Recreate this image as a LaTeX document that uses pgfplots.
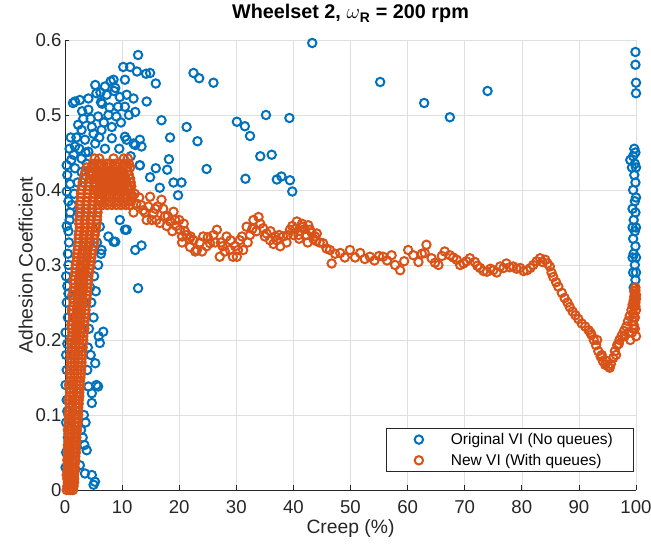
\documentclass[border=0pt]{standalone}
\usepackage{fontspec}
\setmainfont{Liberation Sans}
\usepackage{pgfplots}
\pgfplotsset{compat=1.18}
\usetikzlibrary{calc}
\definecolor{mblue}{RGB}{0,114,189}
\definecolor{morange}{RGB}{217,83,25}
\definecolor{axgray}{RGB}{38,38,38}
\definecolor{gridgray}{RGB}{223,223,223}
\pgfplotsset{
    mlegend/.style={legend image code/.code={\path[draw=none] (-23pt,0pt) -- (22pt,0pt); \draw[##1] plot coordinates {(0pt,0pt)};}},
    circ/.style={only marks, mark=o, mark size=4.2pt, color=#1, line width=2pt, mark options={line width=2pt, solid}, mlegend},
}
\begin{document}
\begin{tikzpicture}
\begin{axis}[
    name=ax,
    scale only axis, width=571pt, height=450pt,
    xmin=0, xmax=100, ymin=0, ymax=0.6,
    xtick={0,10,20,30,40,50,60,70,80,90,100},
    ytick={0,0.1,0.2,0.3,0.4,0.5,0.6},
    axis x line*=bottom, axis y line*=left,
    axis line style={axgray, line width=0.7pt, -},
    tick align=inside, major tick length=4.5pt,
    tick style={axgray, line width=0.7pt},
    grid=major, major grid style={gridgray, line width=0.6pt},
    ticklabel style={font=\fontsize{18.6}{22}\selectfont, text=axgray},
    xticklabel style={inner sep=1pt},
    xticklabel shift=9pt,
    /pgf/number format/assume math mode=true,
    xlabel={Creep (\%)}, ylabel={Adhesion Coefficient},
    label style={font=\fontsize{19.3}{23}\selectfont, text=axgray},
    xlabel style={at={(axis description cs:0.5,-0.097)}, anchor=base, inner sep=0pt},
    ylabel style={at={(axis description cs:-0.056,0.5)}, anchor=south, inner sep=0pt},
    title={Wheelset 2, $\omega$\textsubscript{R} = 200 rpm},
    title style={font=\bfseries\fontsize{19.8}{23}\selectfont, at={(axis description cs:0.5,1)}, anchor=base, yshift=15pt, inner sep=0pt},
    clip=false,
    legend cell align=left,
    legend style={at={(axis description cs:0.995,0.04)}, anchor=south east,
        draw=axgray, line width=0.6pt, fill=white,
        font=\fontsize{15.5}{18}\selectfont, text=black,
        inner xsep=10pt, inner ysep=4pt, row sep=6pt,
        nodes={inner xsep=10pt, inner ysep=1pt}},
]
% Original VI (No queues)
\addplot[circ=mblue]
coordinates {
(0.2,0.09) (0.4,0.105) (0.3,0.12) (0.1,0.14) (0.3,0.16) (0.2,0.18) (0.4,0.195) (0.1,0.21)
(0.5,0.23) (0.3,0.25) (0.6,0.262) (0.4,0.272) (0.2,0.285) (0.6,0.3) (0.5,0.315) (0.7,0.33)
(0.6,0.345) (0.3,0.352) (0.8,0.36) (0.9,0.37) (0.6,0.385) (0.3,0.398) (0.9,0.408) (0.4,0.42)
(0.3,0.433) (1.1,0.44) (0.8,0.455) (0.2,0.05) (0.1,0.03) (0.5,0.07)
(2.6,0.033) (3.4,0.06) (3.8,0.053) (3.5,0.022) (5.25,0.011) (5.0,0.007) (4.7,0.02) (2.8,0.08)
(3.3,0.1) (4.1,0.138) (4.7,0.129) (5.8,0.138) (4.7,0.116) (5.5,0.14) (5.3,0.169) (6.1,0.196)
(6.7,0.211) (3.9,0.16) (4.5,0.18) (4.2,0.215) (4.0,0.19) (5.0,0.23) (4.6,0.25) (4.4,0.27)
(5.4,0.265) (5.1,0.285) (5.8,0.3) (6.3,0.315) (6.1,0.351) (7.6,0.338) (8.8,0.331) (10.5,0.347)
(12.3,0.32) (13.4,0.326) (12.8,0.269) (9.6,0.36) (10.8,0.347) (8.5,0.331) (3.1,0.07) (3.6,0.09)
(5.9,0.205) (6.4,0.32) (5.6,0.33)
(12.8,0.58) (10.2,0.564) (11.4,0.564) (12.6,0.558) (8.5,0.547) (10.5,0.547) (5.3,0.54) (7.0,0.538)
(8.8,0.536) (1.75,0.518) (4.1,0.522) (5.5,0.529) (7.3,0.527) (9.6,0.524) (10.8,0.527) (12.0,0.522)
(12.3,0.504) (4.1,0.507) (5.8,0.498) (7.6,0.5) (9.3,0.511) (10.5,0.511) (2.3,0.487) (2.9,0.48)
(4.7,0.484) (6.4,0.48) (8.2,0.484) (10.5,0.471) (12.0,0.462) (13.1,0.467) (1.75,0.458) (3.5,0.467)
(5.3,0.462) (8.2,0.469) (1.5,0.447) (2.9,0.442) (4.1,0.451) (1.75,0.429) (2.9,0.424) (14.2,0.555)
(14.3,0.518) (1.4,0.516) (6.5,0.515) (3.2,0.495) (7.0,0.455) (9.8,0.49) (11.2,0.5) (6.0,0.47)
(3.8,0.435) (2.2,0.41) (1.6,0.395) (2.4,0.37) (1.2,0.38) (10.8,0.467) (12.3,0.46) (13.4,0.458)
(9.5,0.455) (11.5,0.445) (13.1,0.433) (2.6,0.52) (3.0,0.505) (6.2,0.53) (8.0,0.545) (4.5,0.495)
(6.3,0.517) (8.6,0.532) (7.8,0.51) (9.0,0.498) (1.0,0.47) (2.0,0.47) (3.6,0.45) (2.5,0.455)
(6.8,0.49) (5.0,0.475)
(43.3,0.596) (55.2,0.544) (62.9,0.516) (67.4,0.497) (74.0,0.532) (22.5,0.556) (23.5,0.549) (26.0,0.543)
(15.9,0.542) (14.9,0.556) (16.9,0.493) (21.3,0.484) (18.4,0.47) (23.2,0.465) (30.1,0.491) (31.5,0.485)
(32.4,0.472) (35.2,0.5) (39.3,0.496) (34.2,0.445) (36.2,0.447) (18.2,0.441) (15.9,0.429) (17.9,0.427)
(24.8,0.428) (31.6,0.415) (37.1,0.414) (37.9,0.418) (39.4,0.413) (39.8,0.398) (19.0,0.41) (20.4,0.41)
(19.8,0.393) (16.6,0.403) (14.9,0.417) (13.1,0.433)
(99.6,0.27) (99.9,0.28) (99.5,0.29) (99.8,0.3) (100,0.31) (99.6,0.315) (99.9,0.325) (99.5,0.335)
(99.8,0.345) (100,0.35) (99.6,0.36) (99.9,0.37) (99.4,0.375) (99.8,0.385) (100,0.39) (99.5,0.4)
(99.9,0.41) (99.7,0.42) (99.3,0.43) (99.8,0.435) (99.0,0.44) (99.5,0.445) (99.9,0.45) (99.7,0.455)
(99.4,0.35) (99.4,0.31) (100,0.43) (100,0.29) (99.9,0.584) (99.9,0.567) (100,0.543) (100,0.529)
};
\addlegendentry{Original VI (No queues)}
% New VI (With queues)
\addplot[circ=morange]
coordinates {
(0.3,0.000) (0.7,0.000) (1.0,0.000) (1.4,0.000)
(0.5,0.010) (0.9,0.010) (1.3,0.010) (1.6,0.010)
(0.3,0.020) (0.7,0.020) (1.2,0.020) (1.6,0.020)
(0.5,0.030) (0.9,0.030) (1.4,0.030) (1.7,0.030)
(0.4,0.040) (0.8,0.040) (1.3,0.040) (1.8,0.040)
(0.6,0.050) (1.0,0.050) (1.5,0.050) (1.9,0.050)
(0.5,0.060) (0.9,0.060) (1.4,0.060) (1.9,0.060)
(0.7,0.070) (1.1,0.070) (1.6,0.070) (2.0,0.070)
(0.5,0.080) (1.0,0.080) (1.6,0.080) (2.1,0.080)
(0.7,0.090) (1.2,0.090) (1.8,0.090) (2.2,0.090)
(0.6,0.100) (1.2,0.100) (1.7,0.100) (2.3,0.100)
(0.8,0.110) (1.3,0.110) (1.9,0.110) (2.3,0.110)
(0.7,0.120) (1.3,0.120) (1.9,0.120) (2.4,0.120)
(0.9,0.130) (1.5,0.130) (2.1,0.130) (2.5,0.130)
(0.7,0.140) (1.4,0.140) (2.0,0.140) (2.6,0.140)
(1.0,0.150) (1.6,0.150) (2.2,0.150) (2.7,0.150)
(0.9,0.160) (1.5,0.160) (2.2,0.160) (2.8,0.160)
(1.1,0.170) (1.7,0.170) (2.4,0.170) (2.9,0.170)
(0.9,0.180) (1.6,0.180) (2.3,0.180) (3.0,0.180)
(1.2,0.190) (1.8,0.190) (2.5,0.190) (3.1,0.190)
(1.0,0.200) (1.7,0.200) (2.5,0.200) (3.2,0.200)
(1.3,0.210) (2.0,0.210) (2.7,0.210) (3.3,0.210)
(1.1,0.220) (1.9,0.220) (2.6,0.220) (3.4,0.220)
(1.4,0.230) (2.1,0.230) (2.8,0.230) (3.5,0.230)
(1.2,0.240) (2.0,0.240) (2.8,0.240) (3.6,0.240)
(1.5,0.250) (2.2,0.250) (3.0,0.250) (3.7,0.250)
(1.3,0.260) (2.1,0.260) (3.0,0.260) (3.8,0.260)
(1.6,0.270) (2.4,0.270) (3.2,0.270) (3.9,0.270)
(1.5,0.280) (2.4,0.280) (3.2,0.280) (4.1,0.280)
(1.8,0.290) (2.6,0.290) (3.4,0.290) (4.2,0.290)
(1.9,0.300) (2.7,0.300) (3.6,0.300) (4.4,0.300)
(2.1,0.310) (2.9,0.310) (3.8,0.310) (4.6,0.310)
(2.2,0.320) (3.1,0.320) (3.9,0.320) (4.8,0.320)
(2.4,0.330) (3.3,0.330) (4.2,0.330) (5.1,0.330)
(2.4,0.340) (3.3,0.340) (4.3,0.340) (5.2,0.340)
(2.6,0.350) (3.5,0.350) (4.5,0.350) (5.4,0.350)
(2.5,0.360) (3.5,0.360) (4.5,0.360) (5.6,0.360)
(2.7,0.370) (3.7,0.370) (4.8,0.370) (5.7,0.370)
(2.6,0.380) (3.7,0.380) (4.8,0.380) (5.8,0.380)
(2.8,0.390) (3.9,0.390) (4.9,0.390) (5.9,0.390)
(2.9,0.400) (4.0,0.400) (5.0,0.400) (6.0,0.400)
(3.1,0.410) (4.1,0.410) (5.2,0.410)
(3.4,0.420) (4.4,0.420) (3.8,0.430) (4.6,0.430)
(0.4,0.005) (0.8,0.005) (1.2,0.005) (1.5,0.005)
(0.4,0.015) (0.8,0.015) (1.2,0.015) (1.6,0.015)
(0.4,0.025) (0.8,0.025) (1.3,0.025) (1.7,0.025)
(0.5,0.035) (0.9,0.035) (1.4,0.035) (1.7,0.035)
(0.5,0.045) (0.9,0.045) (1.4,0.045) (1.8,0.045)
(0.5,0.055) (1.0,0.055) (1.5,0.055) (1.9,0.055)
(0.6,0.065) (1.0,0.065) (1.5,0.065) (2.0,0.065)
(0.6,0.075) (1.1,0.075) (1.6,0.075) (2.0,0.075)
(0.6,0.085) (1.1,0.085) (1.7,0.085) (2.1,0.085)
(0.7,0.095) (1.2,0.095) (1.8,0.095) (2.2,0.095)
(0.7,0.105) (1.3,0.105) (1.8,0.105) (2.3,0.105)
(0.8,0.115) (1.3,0.115) (1.9,0.115) (2.4,0.115)
(0.8,0.125) (1.4,0.125) (2.0,0.125) (2.5,0.125)
(0.8,0.135) (1.5,0.135) (2.1,0.135) (2.6,0.135)
(0.9,0.145) (1.5,0.145) (2.1,0.145) (2.6,0.145)
(0.9,0.155) (1.6,0.155) (2.2,0.155) (2.8,0.155)
(1.0,0.165) (1.6,0.165) (2.3,0.165) (2.9,0.165)
(1.0,0.175) (1.7,0.175) (2.4,0.175) (2.9,0.175)
(1.1,0.185) (1.7,0.185) (2.4,0.185) (3.0,0.185)
(1.1,0.195) (1.8,0.195) (2.5,0.195) (3.1,0.195)
(1.2,0.205) (1.9,0.205) (2.6,0.205) (3.2,0.205)
(1.2,0.215) (1.9,0.215) (2.7,0.215) (3.4,0.215)
(1.3,0.225) (2.0,0.225) (2.7,0.225) (3.4,0.225)
(1.3,0.235) (2.1,0.235) (2.8,0.235) (3.6,0.235)
(1.4,0.245) (2.1,0.245) (2.9,0.245) (3.6,0.245)
(1.4,0.255) (2.2,0.255) (3.0,0.255) (3.8,0.255)
(1.5,0.265) (2.3,0.265) (3.1,0.265) (3.9,0.265)
(1.6,0.275) (2.4,0.275) (3.2,0.275) (4.0,0.275)
(1.7,0.285) (2.5,0.285) (3.3,0.285) (4.1,0.285)
(1.8,0.295) (2.7,0.295) (3.5,0.295) (4.3,0.295)
(2.0,0.305) (2.8,0.305) (3.7,0.305) (4.5,0.305)
(2.1,0.315) (3.0,0.315) (3.9,0.315) (4.7,0.315)
(2.3,0.325) (3.2,0.325) (4.1,0.325) (5.0,0.325)
(2.4,0.335) (3.3,0.335) (4.2,0.335) (5.1,0.335)
(2.5,0.345) (3.4,0.345) (4.4,0.345) (5.3,0.345)
(2.5,0.355) (3.5,0.355) (4.5,0.355) (5.5,0.355)
(2.6,0.365) (3.6,0.365) (4.6,0.365) (5.6,0.365)
(2.7,0.375) (3.7,0.375) (4.7,0.375) (5.7,0.375)
(2.7,0.385) (3.8,0.385) (4.8,0.385) (5.8,0.385)
(2.8,0.395) (3.9,0.395) (5.0,0.395) (6.0,0.395)
(3.0,0.405) (4.1,0.405) (5.1,0.405)
(3.3,0.415) (4.3,0.415) (5.2,0.415) (3.6,0.425) (4.5,0.425)
(6.2,0.385) (7.0,0.385) (7.8,0.385) (8.6,0.385) (9.4,0.385) (10.2,0.385) (11.0,0.385) (11.6,0.385)
(5.8,0.395) (6.6,0.395) (7.4,0.395) (8.2,0.395) (9.0,0.395) (9.8,0.395) (10.6,0.395) (11.4,0.395)
(5.4,0.405) (6.2,0.405) (7.0,0.405) (7.8,0.405) (8.6,0.405) (9.4,0.405) (10.2,0.405) (11.0,0.405) (11.6,0.405)
(5.0,0.415) (5.8,0.415) (6.6,0.415) (7.4,0.415) (8.2,0.415) (9.0,0.415) (9.8,0.415) (10.6,0.415) (11.4,0.415)
(4.6,0.425) (5.4,0.425) (6.2,0.425) (7.0,0.425) (7.8,0.425) (8.6,0.425) (9.4,0.425) (10.2,0.425) (11.0,0.425)
(4.9,0.435) (5.6,0.435) (6.4,0.435) (7.3,0.435) (8.0,0.435) (8.8,0.435) (9.6,0.435) (10.4,0.435) (11.2,0.435)
(5.2,0.442) (6.0,0.442) (8.5,0.442) (10.3,0.442) (11.0,0.442)
(6.6,0.38) (7.4,0.38) (8.2,0.38) (9.0,0.38) (9.8,0.38) (10.6,0.38) (11.3,0.38)
(6.2,0.39) (7.0,0.39) (7.8,0.39) (8.6,0.39) (9.4,0.39) (10.2,0.39) (11.0,0.39) (11.7,0.39)
(5.6,0.40) (6.4,0.40) (7.2,0.40) (8.0,0.40) (8.8,0.40) (9.6,0.40) (10.4,0.40) (11.2,0.40)
(5.2,0.41) (6.0,0.41) (6.8,0.41) (7.6,0.41) (8.4,0.41) (9.2,0.41) (10.0,0.41) (10.8,0.41) (11.5,0.41)
(4.8,0.42) (5.6,0.42) (6.4,0.42) (7.2,0.42) (8.0,0.42) (8.8,0.42) (9.6,0.42) (10.4,0.42) (11.2,0.42)
(4.7,0.43) (5.2,0.43) (6.0,0.43) (6.8,0.43) (7.6,0.43) (8.4,0.43) (9.2,0.43) (10.0,0.43) (10.8,0.43) (11.4,0.43)
(11.5,0.4) (12.2,0.395) (12.0,0.37) (13.3,0.38) (14.0,0.37) (14.6,0.378) (15.2,0.36) (15.8,0.375)
(16.0,0.36) (17.2,0.375) (17.8,0.352) (18.0,0.365) (18.8,0.345) (19.3,0.36) (20.0,0.36) (20.5,0.33)
(21.0,0.345) (22.0,0.338)
(11.8,0.392) (12.5,0.382) (13.0,0.39) (13.7,0.373) (14.3,0.36) (14.9,0.391) (15.5,0.369) (16.2,0.378)
(16.6,0.356) (16.9,0.387) (17.5,0.365) (18.4,0.358) (19.0,0.371) (19.5,0.352) (20.1,0.347) (20.8,0.355)
(21.3,0.34) (21.9,0.324) (22.5,0.333) (23.1,0.32) (23.6,0.33) (24.2,0.338) (24.8,0.325) (25.4,0.329)
(26.0,0.34) (26.6,0.347) (27.1,0.311) (27.6,0.325) (28.3,0.338) (28.9,0.32) (29.4,0.311) (30.1,0.311)
(30.6,0.333) (31.2,0.32) (31.8,0.351) (32.4,0.34) (33.0,0.36) (33.5,0.345) (33.9,0.364) (34.7,0.349)
(35.3,0.342) (35.9,0.333) (36.5,0.328) (37.1,0.333) (37.7,0.325) (38.2,0.338) (38.8,0.33) (39.4,0.347)
(40.0,0.34) (40.6,0.358) (41.2,0.345) (41.7,0.351) (42.3,0.34) (42.9,0.347) (43.5,0.335) (44.1,0.342)
(44.6,0.33) (45.2,0.329) (45.8,0.322) (46.4,0.32) (46.7,0.302) (47.3,0.315) (48.2,0.316) (49.0,0.31)
(49.9,0.32) (50.8,0.31) (51.7,0.316) (52.5,0.308) (53.4,0.311) (54.2,0.306) (55.0,0.312) (55.7,0.311)
(56.4,0.306) (57.2,0.313) (57.8,0.3) (58.7,0.293) (59.4,0.305) (60.1,0.32) (61.0,0.313) (61.9,0.304)
(62.5,0.315) (63.0,0.316) (63.3,0.327) (64.2,0.309) (64.8,0.303) (65.4,0.3) (66.0,0.312) (66.5,0.318)
(67.4,0.313) (68.0,0.31) (68.6,0.307) (69.2,0.3) (69.8,0.302) (70.3,0.305) (70.9,0.309) (71.8,0.304)
(72.2,0.299) (72.7,0.296) (73.3,0.292) (73.9,0.291) (74.5,0.295) (75.0,0.293) (75.6,0.29) (76.2,0.298)
(76.8,0.296) (77.3,0.302) (77.9,0.297) (78.5,0.298) (79.1,0.295) (79.7,0.296) (80.3,0.292) (80.9,0.293)
(81.5,0.296) (82.0,0.3) (82.6,0.305) (83.2,0.309) (83.6,0.304) (84.1,0.307) (84.5,0.302) (84.9,0.298)
(85.2,0.29) (85.5,0.284) (86.0,0.277) (86.4,0.271)
(39.0,0.34) (39.8,0.352) (40.3,0.348) (40.9,0.34) (41.5,0.355) (42.0,0.348) (42.6,0.353) (43.2,0.343)
(43.8,0.338) (41.0,0.335) (42.5,0.33) (44.0,0.332)
(20.5,0.338) (21.8,0.335) (22.8,0.318) (24.0,0.318) (25.0,0.337) (26.3,0.33) (27.3,0.33) (28.0,0.318)
(29.0,0.333) (29.8,0.325) (30.3,0.32) (31.0,0.338) (32.0,0.33) (32.8,0.348) (34.2,0.355) (35.0,0.338)
(36.0,0.345) (36.8,0.338) (37.5,0.34)
(87.0,0.263) (87.5,0.256) (88.0,0.25) (88.4,0.244) (88.9,0.238) (89.4,0.233) (89.9,0.228) (90.5,0.222)
(91.1,0.218) (91.7,0.213) (92.2,0.207) (92.6,0.2) (93.0,0.193) (93.4,0.185) (93.8,0.178) (94.2,0.172)
(94.6,0.167) (95.1,0.165) (95.6,0.168) (96.0,0.176) (96.3,0.185) (96.7,0.193) (97.1,0.2) (97.5,0.206)
(97.9,0.212) (98.3,0.218) (98.6,0.225) (98.9,0.232) (99.2,0.24) (99.4,0.247) (99.6,0.253) (99.7,0.258)
(99.8,0.262) (99.9,0.266)
(92.0,0.21) (93.2,0.2) (94.0,0.18) (94.9,0.172) (95.4,0.163) (96.5,0.18) (97.0,0.195) (98.0,0.205)
(98.8,0.21) (99.5,0.215) (99.7,0.23) (99.9,0.245)
(99.0,0.2) (99.3,0.21) (99.6,0.22) (99.8,0.23) (100,0.24) (99.5,0.235) (99.9,0.25) (100,0.26)
(99.7,0.265) (99.9,0.27) (100,0.255) (99.4,0.225) (99.8,0.215) (100,0.205) (99.6,0.245)
};
\addlegendentry{New VI (With queues)}
\end{axis}
\pgfresetboundingbox
\path[use as bounding box] ($(ax.south west)+(-65pt,-61pt)$) rectangle ($(ax.north east)+(15pt,40pt)$);
\end{tikzpicture}
\end{document}
